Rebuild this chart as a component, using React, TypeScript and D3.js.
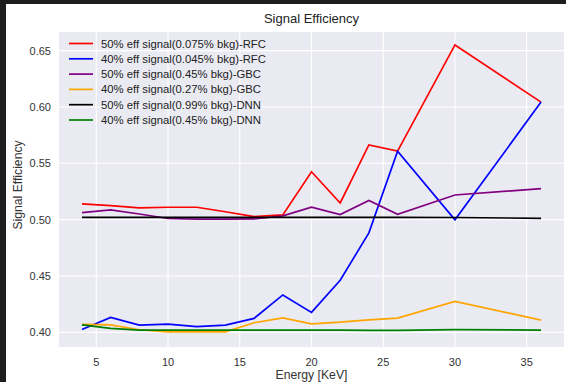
import React from "react";
import * as d3 from "d3";

const energies = [4, 6, 8, 10, 12, 14, 16, 18, 20, 22, 24, 26, 30, 36];
const rfc50 = [0.514, 0.5125, 0.5104, 0.511, 0.511, 0.507, 0.5027, 0.5042, 0.5425, 0.5148, 0.5663, 0.5608, 0.655, 0.6043];
const rfc40 = [0.4026, 0.4133, 0.4064, 0.4073, 0.405, 0.4064, 0.4124, 0.4332, 0.4177, 0.4462, 0.4883, 0.5608, 0.4998, 0.6043];
const gbc50 = [0.5063, 0.5087, 0.505, 0.501, 0.5004, 0.5004, 0.5006, 0.5034, 0.511, 0.5045, 0.5171, 0.5048, 0.5219, 0.5275];
const gbc40 = [0.407, 0.4067, 0.4023, 0.4005, 0.4005, 0.4005, 0.4085, 0.4129, 0.4076, 0.409, 0.411, 0.4126, 0.4274, 0.4109];
const dnn50 = [0.5021, 0.5021, 0.5021, 0.5021, 0.5021, 0.5021, 0.5021, 0.5021, 0.5021, 0.5021, 0.5021, 0.5021, 0.5019, 0.5012];
const dnn40 = [0.4067, 0.4035, 0.402, 0.402, 0.402, 0.402, 0.402, 0.402, 0.402, 0.402, 0.4018, 0.4018, 0.4025, 0.402];

const seriesNames = [
  "50% eff signal(0.075% bkg)-RFC",
  "40% eff signal(0.045% bkg)-RFC",
  "50% eff signal(0.45% bkg)-GBC",
  "40% eff signal(0.27% bkg)-GBC",
  "50% eff signal(0.99% bkg)-DNN",
  "40% eff signal(0.45% bkg)-DNN",
];
const seriesValues = [rfc50, rfc40, gbc50, gbc40, dnn50, dnn40];
const seriesColors = ["#ff0000", "#0000ff", "#800080", "#ffa500", "#000000", "#008000"];

const xTicks = [5, 10, 15, 20, 25, 30, 35];
const yTicks = [0.4, 0.45, 0.5, 0.55, 0.6, 0.65];

const W = 566, H = 382;
const left = 59, right = 564, top = 32, bottom = 347;

export default function App() {
  const x = d3.scaleLinear().domain([2.4, 37.6]).range([left, right]);
  const y = d3.scaleLinear().domain([0.387, 0.6665]).range([bottom, top]);
  const line = d3.line<[number, number]>().x(d => x(d[0])).y(d => y(d[1]));
  const font = "'Liberation Sans', Arial, sans-serif";
  return (
    <svg width={W} height={H} style={{ position: "absolute", left: 0, top: 0 }} fontFamily={font}>
      <rect x={0} y={0} width={W} height={H} fill="#1e1e1e" />
      <rect x={6} y={4} width={W - 6} height={H - 4} fill="#ffffff" />
      <rect x={left} y={top} width={right - left} height={bottom - top} fill="#eaeaf2" />
      {xTicks.map(t => (
        <line key={"gx" + t} x1={x(t)} x2={x(t)} y1={top} y2={bottom} stroke="#fff" strokeWidth={1.1} />
      ))}
      {yTicks.map(t => (
        <line key={"gy" + t} x1={left} x2={right} y1={y(t)} y2={y(t)} stroke="#fff" strokeWidth={1.1} />
      ))}
      {seriesValues.map((vals, i) => (
        <path
          key={"s" + i}
          d={line(energies.map((e, j) => [e, vals[j]] as [number, number])) || ""}
          fill="none"
          stroke={seriesColors[i]}
          strokeWidth={1.7}
        />
      ))}
      {xTicks.map(t => (
        <text key={"tx" + t} x={x(t)} y={366} textAnchor="middle" fontSize={11} fill="#333">{t}</text>
      ))}
      {yTicks.map(t => (
        <text key={"ty" + t} x={51} y={y(t) + 4} textAnchor="end" fontSize={11} fill="#333">{t.toFixed(2)}</text>
      ))}
      <text x={(left + right) / 2} y={378.5} textAnchor="middle" fontSize={12.2} fill="#333">Energy [KeV]</text>
      <text transform={`translate(22,185) rotate(-90)`} textAnchor="middle" fontSize={12.2} fill="#333">Signal Efficiency</text>
      <text x={(left + right) / 2} y={23} textAnchor="middle" fontSize={13} fill="#222">Signal Efficiency</text>
      {seriesNames.map((n, i) => {
        const ly = 43.5 + i * 15.3;
        return (
          <g key={"l" + i}>
            <line x1={69} x2={93} y1={ly} y2={ly} stroke={seriesColors[i]} strokeWidth={1.7} />
            <text x={101} y={ly + 4} fontSize={11.3} fill="#222">{n}</text>
          </g>
        );
      })}
    </svg>
  );
}
